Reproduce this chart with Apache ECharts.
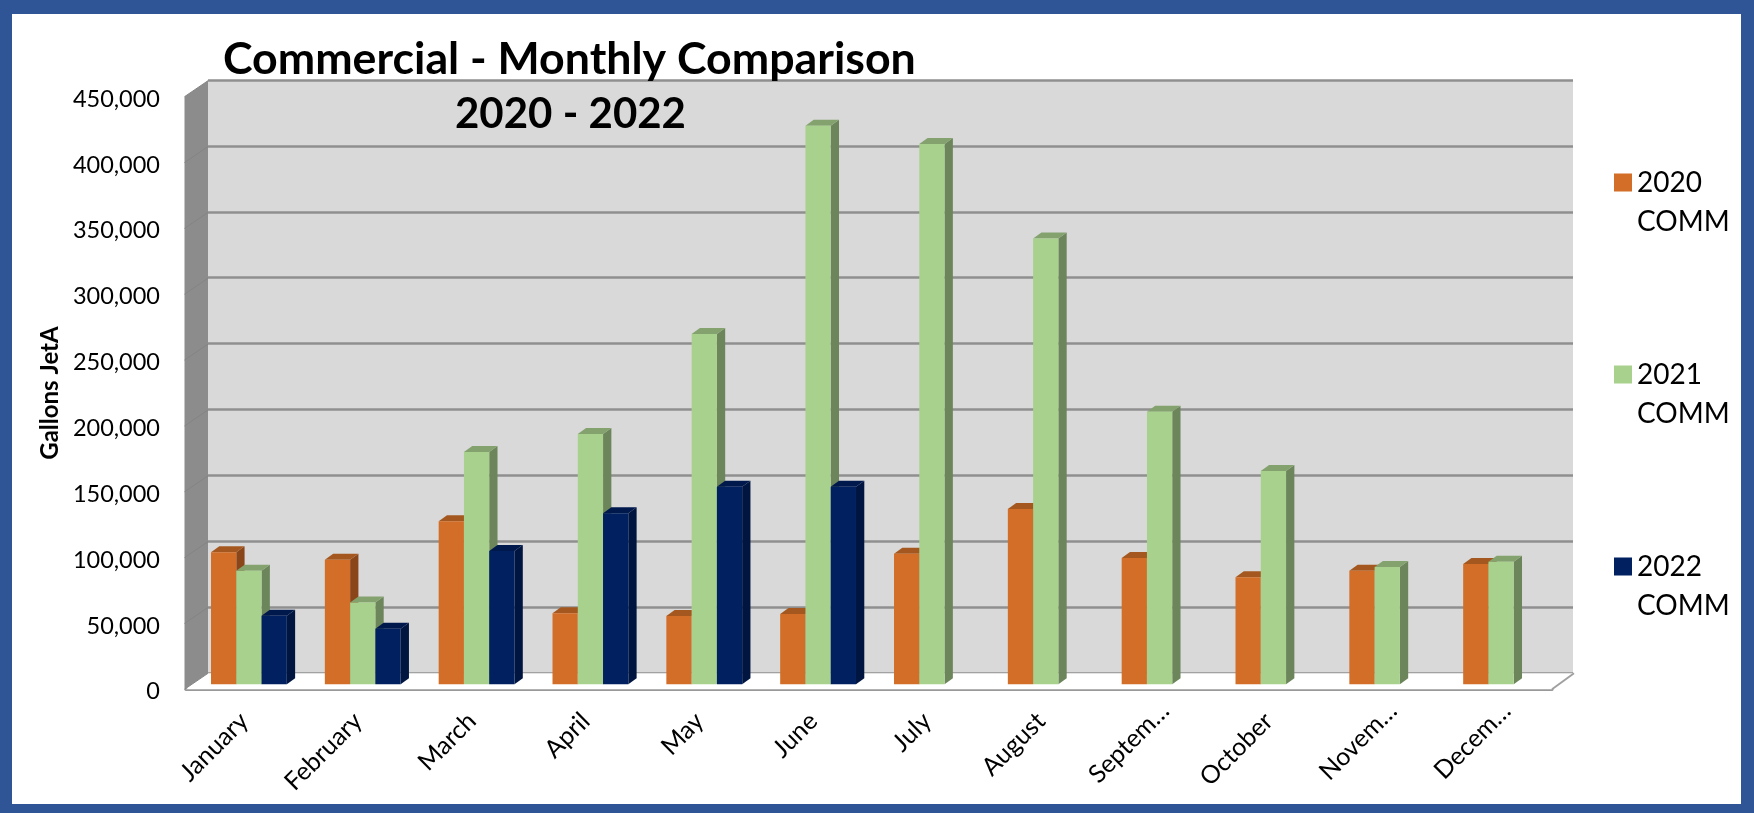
<!DOCTYPE html>
<html>
<head>
<meta charset="utf-8">
<title>Commercial - Monthly Comparison</title>
<style>
  html, body { margin: 0; padding: 0; background: #2f5597; }
  #sheet { position: absolute; left: 12px; top: 14px; width: 1729px; height: 790px; background: #fff; }
  #chart { position: absolute; left: 0; top: 0; width: 1754px; height: 813px; }
</style>
<script src="https://cdn.jsdelivr.net/npm/echarts@6/dist/echarts.min.js"></script>
</head>
<body>
<div id="sheet"></div>
<div id="chart"></div>
<script>
  const months = ['January', 'February', 'March', 'April', 'May', 'June', 'July', 'August', 'Septem…', 'October', 'Novem…', 'Decem…'];
  const comm2020 = [100200, 94600, 123800, 53900, 51800, 53400, 99200, 133100, 95900, 81200, 86300, 91300];
  const comm2021 = [86300, 62200, 176400, 190000, 266000, 424100, 410200, 338600, 207000, 162000, 89000, 93100];
  const comm2022 = [52100, 42200, 101200, 129800, 150000, 150000, null, null, null, null, null, null];
  const seriesNames = ['2020\nCOMM', '2021\nCOMM', '2022\nCOMM'];

  const axisMax = 450000;
  const axisStep = 50000;
  const font = 'Lato, "Open Sans", sans-serif';

  // front / side / top faces of the fake 3d columns
  const faces = [
    { front: '#d36e28', side: '#8a4518', top: '#a4581f' },
    { front: '#a9d18e', side: '#6c855a', top: '#84a26e' },
    { front: '#002060', side: '#001540', top: '#00194d' }
  ];

  function poly(points, fill) {
    return { type: 'polygon', shape: { points: points }, style: { fill: fill } };
  }

  function renderColumn(slot) {
    return function (params, api) {
      const value = api.value(1);
      if (isNaN(value)) return;
      const base = api.coord([api.value(0), 0]);
      const top = api.coord([api.value(0), value]);
      const barW = api.size([1, 0])[0] * 0.222;
      const x = base[0] + 6 + (slot - 1.5) * barW;
      const y0 = base[1] - 5;
      const y1 = top[1] - 5;
      const dx = 8.3, dy = 6;
      const face = faces[slot];
      return {
        type: 'group',
        children: [
          poly([[x + barW, y1], [x + barW + dx, y1 - dy], [x + barW + dx, y0 - dy], [x + barW, y0]], face.side),
          poly([[x, y1], [x + dx, y1 - dy], [x + barW + dx, y1 - dy], [x + barW, y1]], face.top),
          { type: 'rect', shape: { x: x, y: y1, width: barW, height: y0 - y1 }, style: { fill: face.front } }
        ]
      };
    };
  }

  // side wall and floor, taken from the front grid
  function renderFrame(params, api) {
    const cs = params.coordSys;
    const dx = 22, dy = -16;
    const left = cs.x, right = cs.x + cs.width, bottom = cs.y + cs.height, top = cs.y;
    const children = [
      poly([[left - 1.5, top], [left + dx, top + dy], [left + dx, bottom + dy], [left - 1.5, bottom]], '#8c8c8c'),
      poly([[left, bottom], [left + dx, bottom + dy], [right + dx, bottom + dy], [right, bottom]], '#ffffff'),
      { type: 'line', shape: { x1: right, y1: bottom, x2: right + dx, y2: bottom + dy }, style: { stroke: '#a0a0a0', lineWidth: 2 } }
    ];
    for (let v = 0; v <= axisMax; v += axisStep) {
      const p = api.coord([0, v]);
      children.push({
        type: 'line',
        shape: { x1: left - 1.5, y1: p[1], x2: left + dx, y2: p[1] + dy },
        style: { stroke: '#848484', lineWidth: 1 }
      });
    }
    return { type: 'group', children: children };
  }

  function columnSeries(name, values, slot) {
    return {
      name: name,
      type: 'custom',
      xAxisIndex: 1,
      yAxisIndex: 1,
      z: 3 + slot,
      itemStyle: { color: faces[slot].front },
      encode: { x: 0, y: 1 },
      renderItem: renderColumn(slot),
      data: values.map(function (v, i) { return [i, v === null ? NaN : v]; })
    };
  }

  // the cut-off month names sit further right than the others in the original
  const monthItems = months.map(function (m) {
    return m.endsWith('…') ? { value: m, textStyle: { padding: [32.6, -16.3, 0, 0] } } : m;
  });

  const chart = echarts.init(document.getElementById('chart'), null, { renderer: 'canvas' });

  chart.setOption({
    animation: false,
    textStyle: { fontFamily: font },
    title: [
      { text: 'Commercial - Monthly Comparison', left: 218, top: 32, textStyle: { fontFamily: font, fontWeight: 700, fontSize: 44.7, color: '#000' } },
      { text: '2020 - 2022', left: 450, top: 88, textStyle: { fontFamily: font, fontWeight: 700, fontSize: 42, color: '#000' } }
    ],
    legend: {
      orient: 'vertical',
      left: 1609,
      top: 158,
      itemWidth: 18,
      itemHeight: 78,
      itemGap: 114,
      selectedMode: false,
      // square sits on the first text line, the stray points stretch its box to two lines
      icon: 'path://M0 10.5H18V28.5H0Z M0 0L0 0 M18 78L18 78',
      data: seriesNames,
      textStyle: { fontFamily: font, fontSize: 28, lineHeight: 39, color: '#000' }
    },
    grid: [
      { left: 208, right: 181, top: 80, height: 593, show: true, backgroundColor: '#d9d9d9', borderWidth: 0 },
      { left: 186, right: 202, top: 96.7, height: 592.6 }
    ],
    xAxis: [
      { type: 'category', gridIndex: 0, data: months, show: false },
      {
        type: 'category',
        gridIndex: 1,
        data: monthItems,
        axisLine: { lineStyle: { color: '#999999', width: 3 } },
        axisTick: { length: 8, lineStyle: { color: '#8c8c8c', width: 1 } },
        axisLabel: { interval: 0, rotate: 45, margin: 29, fontSize: 25, color: '#000', padding: [3.6, -1.8, 0, 0] }
      }
    ],
    yAxis: [
      {
        type: 'value',
        gridIndex: 0,
        min: 0,
        max: axisMax,
        interval: axisStep,
        axisLine: { show: false },
        axisTick: { show: false },
        axisLabel: { show: false },
        splitLine: { lineStyle: { color: '#8f8f8f', width: 2.5 } }
      },
      {
        type: 'value',
        gridIndex: 1,
        min: 0,
        max: axisMax,
        interval: axisStep,
        name: 'Gallons JetA',
        nameLocation: 'middle',
        nameGap: 123,
        nameTextStyle: { fontFamily: font, fontWeight: 700, fontSize: 24, color: '#000' },
        axisLine: { show: false },
        axisTick: { length: 7, lineStyle: { color: '#a0a0a0', width: 1 } },
        axisLabel: {
          margin: 26,
          fontSize: 23.5,
          color: '#000',
          verticalAlign: 'top',
          padding: [-9.5, 0, 0, 0],
          formatter: function (v) { return v.toLocaleString('en-US'); }
        },
        splitLine: { show: false }
      }
    ],
    series: [
      {
        type: 'custom',
        xAxisIndex: 1,
        yAxisIndex: 1,
        z: 1,
        silent: true,
        renderItem: renderFrame,
        data: [[0, 0]]
      },
      columnSeries(seriesNames[0], comm2020, 0),
      columnSeries(seriesNames[1], comm2021, 1),
      columnSeries(seriesNames[2], comm2022, 2)
    ]
  });

  window.addEventListener('resize', function () { chart.resize(); });
</script>
</body>
</html>
